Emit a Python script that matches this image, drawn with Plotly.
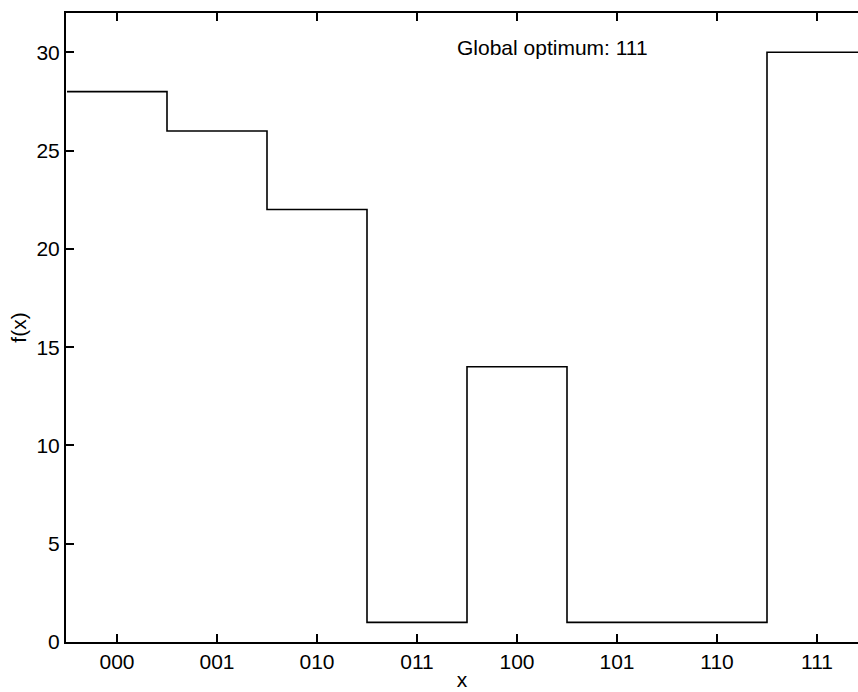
import plotly.graph_objects as go

# Deceptive 3-bit fitness function
labels = ["000", "001", "010", "011", "100", "101", "110", "111"]
fitness = [28, 26, 22, 1, 14, 1, 1, 30]
y_ticks = [0, 5, 10, 15, 20, 25, 30]

pos = list(range(len(labels)))
# extend the step out to the cell edges on both ends
xs = [pos[0] - 0.5] + pos + [pos[-1] + 0.5]
ys = [fitness[0]] + fitness + [fitness[-1]]

font = dict(family="Liberation Sans, Arial, Helvetica, sans-serif", size=21, color="black")

fig = go.Figure()
fig.add_trace(go.Scatter(
    x=xs, y=ys, mode="lines", line=dict(shape="hvh", color="black", width=1.6),
    showlegend=False, hoverinfo="skip",
))

fig.add_annotation(
    x=3.38, y=30.25, text="Global optimum: 111", showarrow=False,
    xanchor="left", yanchor="middle", font=font,
)

fig.update_layout(
    width=858, height=692,
    margin=dict(l=66, r=0, t=13, b=50),
    plot_bgcolor="white", paper_bgcolor="white",
    font=font,
    xaxis=dict(
        range=[-0.51, 7.41], tickmode="array", tickvals=pos, ticktext=labels,
        ticks="inside", ticklen=8, tickwidth=1.5, tickcolor="black",
        showline=True, linecolor="black", linewidth=2, mirror="ticks",
        showgrid=False, zeroline=False,
        title=dict(text="x", standoff=0, font=font),
    ),
    yaxis=dict(
        range=[0, 32], tickmode="array", tickvals=y_ticks,
        ticks="inside", ticklen=8, tickwidth=1.5, tickcolor="black",
        showline=True, linecolor="black", linewidth=2,
        showgrid=False, zeroline=False,
        title=dict(text="f(x)", standoff=4, font=font),
    ),
)

fig.write_html("out.html")
